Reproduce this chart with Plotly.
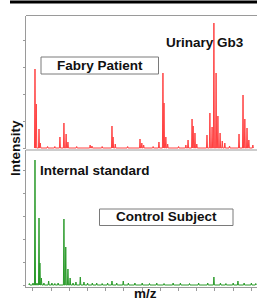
import plotly.graph_objects as go

W, H = 257, 301

# ---- data (m/z, relative intensity) ----
fabry_mz = [1005.5, 1009, 1016.5, 1020, 1040, 1060, 1074, 1085, 1091, 1096, 1120, 1157, 1162,
            1190, 1217, 1220, 1226, 1260, 1294, 1299, 1304, 1330, 1346, 1357, 1360, 1365, 1370,
            1400, 1420, 1426, 1437, 1440, 1445, 1450, 1478, 1486, 1492, 1497, 1503, 1508, 1514,
            1520, 1527, 1540, 1566, 1577, 1582, 1588, 1593, 1604]
fabry_int = [79, 44, 19, 5, 1.5, 1.5, 11, 25, 14, 6, 1.5, 3, 2,
             1.5, 22, 11, 4, 1.5, 9, 5, 3, 1.5, 6, 75, 45, 11, 4,
             1.5, 3, 8, 29, 22, 15, 4, 13, 35, 21, 125, 75, 32, 15,
             7, 5, 2, 14, 53, 29, 20, 8, 3]

control_mz = [990, 1000, 1005.5, 1011, 1016.5, 1019, 1023, 1030, 1043, 1052, 1060, 1069,
              1085, 1090, 1096, 1102, 1110, 1118, 1130, 1140, 1150, 1163, 1175, 1190, 1205,
              1217, 1230, 1248, 1262, 1280, 1300, 1320, 1340, 1360, 1385, 1405, 1430, 1455,
              1480, 1497, 1515, 1530, 1550, 1563, 1580, 1600, 1612]
control_int = [1.5, 2, 125, 2, 67, 22, 7, 2, 4, 2, 1.5, 2,
               66, 38, 16, 7, 2, 3, 8, 3, 2, 2, 2, 1.5, 2,
               4, 2, 4, 2, 2, 2, 1.5, 2, 1.5, 2, 2, 1.5, 2,
               2, 8, 2, 1.5, 2, 4, 2, 2, 1.5]

mz_ticks = [1000, 1050, 1100, 1150, 1200, 1250, 1300, 1350, 1400, 1450, 1500, 1550, 1600]

# ---- helpers ----
def stick(mz, inten, hw=1.4):
    pts = sorted(zip(mz, inten))
    xs, ys = [], []
    for m, h in pts:
        xs += [m - hw, m, m + hw]
        ys += [0, h, 0]
    return xs, ys

def px(x):
    return x / W

def py(y):
    return 1 - y / H

fx, fy = stick(fabry_mz, fabry_int)
cx, cy = stick(control_mz, control_int)

fig = go.Figure()
fig.add_trace(go.Scatter(x=fx, y=fy, mode="lines", line=dict(color="#ff4040", width=1),
                         fill="tozeroy", fillcolor="rgba(255,130,130,0.35)",
                         xaxis="x", yaxis="y", hoverinfo="skip"))
fig.add_trace(go.Scatter(x=cx, y=cy, mode="lines", line=dict(color="#2a9a2a", width=1),
                         fill="tozeroy", fillcolor="rgba(80,180,80,0.35)",
                         xaxis="x2", yaxis="y2", hoverinfo="skip"))

xrange = [980.8, 1615.4]
grey = "#9a9a9a"
common_x = dict(range=xrange, showgrid=False, zeroline=False, showticklabels=False,
                domain=[px(26), 1])
fig.update_layout(
    width=W, height=H, margin=dict(l=0, r=0, t=0, b=0),
    paper_bgcolor="white", plot_bgcolor="white", showlegend=False,
    xaxis=dict(**common_x, anchor="y", showline=False, ticks=""),
    yaxis=dict(domain=[py(149), py(15.5)], range=[-1, 132.5], showgrid=False, zeroline=False,
               showticklabels=False, showline=True, linecolor=grey, linewidth=1,
               ticks="outside", ticklen=2, tickcolor=grey, dtick=27),
    xaxis2=dict(**common_x, anchor="y2", showline=True, linecolor=grey, linewidth=1,
                ticks="outside", ticklen=3, tickcolor=grey, tickvals=mz_ticks),
    yaxis2=dict(domain=[py(286.5), py(150)], range=[-1.5, 135], showgrid=False, zeroline=False,
                showticklabels=False, showline=True, linecolor=grey, linewidth=1,
                ticks="outside", ticklen=2, tickcolor=grey, dtick=23),
)

shapes = [
    # black bar at top
    dict(type="line", xref="paper", yref="paper", x0=px(10), x1=1, y0=py(2), y1=py(2),
         line=dict(color="black", width=3)),
    # top border of upper panel
    dict(type="line", xref="paper", yref="paper", x0=px(26), x1=1, y0=py(15.5), y1=py(15.5),
         line=dict(color=grey, width=1)),
    # separator between panels
    dict(type="line", xref="paper", yref="paper", x0=px(26), x1=1, y0=py(150), y1=py(150),
         line=dict(color=grey, width=1)),
    # label boxes
    dict(type="rect", xref="paper", yref="paper", x0=px(41), x1=px(158.5), y0=py(74), y1=py(57),
         line=dict(color="#7a7a7a", width=1), fillcolor="white"),
    dict(type="rect", xref="paper", yref="paper", x0=px(99.5), x1=px(233), y0=py(225.5), y1=py(209),
         line=dict(color="#7a7a7a", width=1), fillcolor="white"),
]
fig.update_layout(shapes=shapes)

font = dict(family="Liberation Sans, Arial, sans-serif", size=13.5, color="#111111")
anns = [
    dict(text="<b>Fabry Patient</b>", x=px(99.5), y=py(65.5)),
    dict(text="<b>Urinary Gb3</b>", x=px(204.5), y=py(43)),
    dict(text="<b>Internal standard</b>", x=px(95), y=py(170)),
    dict(text="<b>Control Subject</b>", x=px(166), y=py(217)),
    dict(text="<b>m/z</b>", x=px(145.5), y=py(293.5)),
    dict(text="<b>Intensity</b>", x=px(15), y=py(148), textangle=-90),
]
for a in anns:
    fig.add_annotation(xref="paper", yref="paper", xanchor="center", yanchor="middle",
                       showarrow=False, font=font, **a)

fig.write_html("out.html", config={"displayModeBar": False, "staticPlot": True},
               post_script="document.body.style.margin='0';document.body.style.overflow='hidden';")
